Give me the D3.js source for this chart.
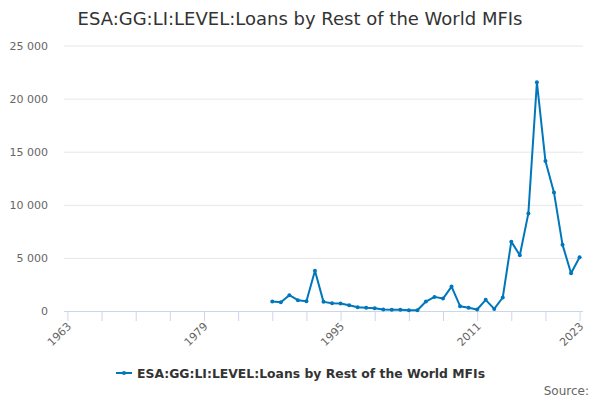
<!DOCTYPE html>
<html>
<head>
<meta charset="utf-8">
<script src="https://cdn.jsdelivr.net/npm/d3@7"></script>
<style>
  body { margin: 0; background: #fff; }
  svg { font-family: "DejaVu Sans", sans-serif; }
</style>
</head>
<body>
<svg id="chart" width="600" height="400"></svg>
<script>
const seriesName = "ESA:GG:LI:LEVEL:Loans by Rest of the World MFIs";
const years = [1987, 1988, 1989, 1990, 1991, 1992, 1993, 1994, 1995, 1996, 1997, 1998, 1999, 2000, 2001, 2002, 2003, 2004, 2005,
  2006, 2007, 2008, 2009, 2010, 2011, 2012, 2013, 2014, 2015, 2016, 2017, 2018, 2019, 2020, 2021, 2022, 2023];
const values = [890, 830, 1490, 1020, 920, 3800, 860, 730, 700, 545, 360, 300, 265, 140, 110, 110, 75, 75, 890,
  1330, 1170, 2300, 450, 300, 140, 1050, 200, 1270, 6530, 5245, 9190, 21540, 14115, 11165, 6250, 3550, 5055];
const xTicks = [1963, 1967, 1971, 1975, 1979, 1983, 1987, 1991, 1995, 1999, 2003, 2007, 2011, 2015, 2019, 2023];
const xLabels = [1963, 1979, 1995, 2011, 2023];
const yTicks = [0, 5000, 10000, 15000, 20000, 25000];

const data = years.map((y, i) => ({ year: y, value: values[i] }));
const color = "#0077bb";
const plot = { left: 64, right: 583, top: 45.5, bottom: 311 };

const svg = d3.select("#chart");

const xScale = d3.scaleLinear().domain([1962.6, 2023.4]).range([plot.left, plot.right]);
const yScale = d3.scaleLinear().domain([0, 25000]).range([plot.bottom, plot.top]);
const fmt = d => d3.format(",")(d).replace(/,/g, " ");

svg.append("text")
  .attr("x", 300).attr("y", 25)
  .attr("text-anchor", "middle")
  .style("font-size", "18px").style("fill", "#333")
  .text(seriesName);

// gridlines + y labels
const yAxis = svg.append("g")
  .attr("transform", `translate(${plot.left},0)`)
  .call(d3.axisLeft(yScale).tickValues(yTicks).tickSize(-(plot.right - plot.left)).tickFormat(fmt));
yAxis.select(".domain").remove();
yAxis.selectAll(".tick line").attr("stroke", "#e6e6e6");
yAxis.selectAll(".tick text")
  .attr("x", -16).attr("dy", "0.32em")
  .style("font-size", "11px").style("fill", "#666").style("font-family", "DejaVu Sans");

// x axis
const xAxis = svg.append("g")
  .attr("transform", `translate(0,${plot.bottom})`)
  .call(d3.axisBottom(xScale).tickValues(xTicks).tickSize(10)
    .tickFormat(d => xLabels.includes(d) ? d : ""));
xAxis.select(".domain").attr("stroke", "#ccd6eb").attr("d", `M${plot.left},0.5H${plot.right}`);
xAxis.selectAll(".tick line").attr("stroke", "#ccd6eb");
xAxis.selectAll(".tick text")
  .attr("y", 0).attr("dy", 0)
  .attr("text-anchor", "end")
  .attr("transform", "translate(4,16) rotate(-45)")
  .style("font-size", "11px").style("fill", "#666").style("font-family", "DejaVu Sans");

// series
const line = d3.line().x(d => xScale(d.year)).y(d => yScale(d.value));
svg.append("path")
  .datum(data)
  .attr("fill", "none")
  .attr("stroke", color)
  .attr("stroke-width", 2)
  .attr("stroke-linejoin", "round")
  .attr("d", line);

svg.selectAll(".pt").data(data).join("circle")
  .attr("class", "pt")
  .attr("cx", d => xScale(d.year))
  .attr("cy", d => yScale(d.value))
  .attr("r", 2)
  .attr("fill", color);

// legend
const legend = svg.append("g").attr("transform", "translate(116,373)");
legend.append("line").attr("x1", 0).attr("x2", 16).attr("y1", 0).attr("y2", 0)
  .attr("stroke", color).attr("stroke-width", 2);
legend.append("circle").attr("cx", 8).attr("cy", 0).attr("r", 2).attr("fill", color);
legend.append("text")
  .attr("x", 21).attr("y", 5)
  .style("font-size", "12.4px").style("font-weight", "bold").style("fill", "#333")
  .text(seriesName);

svg.append("text")
  .attr("x", 589).attr("y", 395)
  .attr("text-anchor", "end")
  .style("font-size", "12px").style("fill", "#666")
  .text("Source:");
</script>
</body>
</html>
